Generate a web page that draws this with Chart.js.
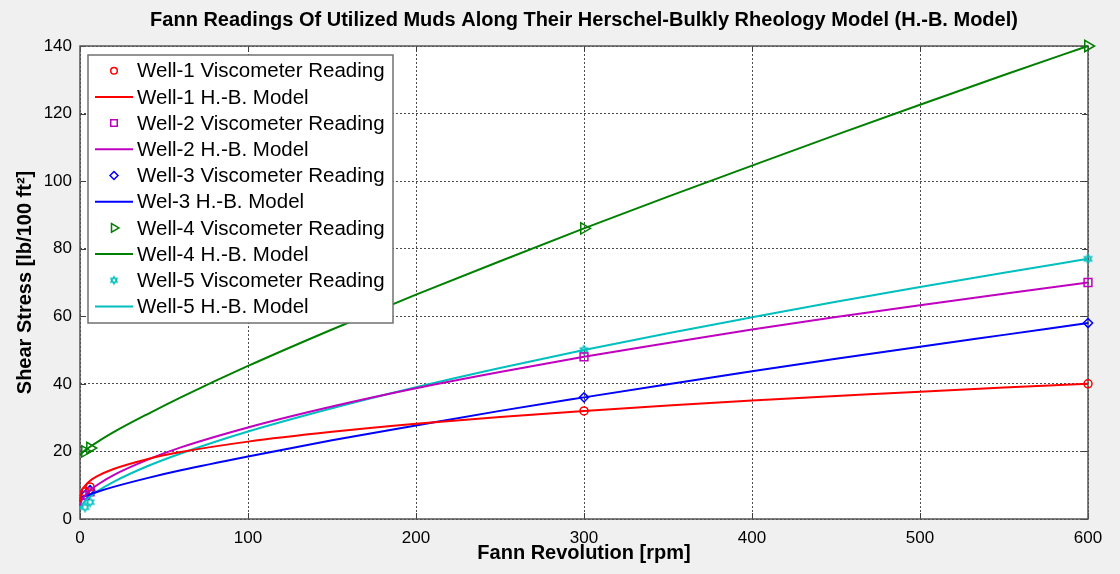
<!DOCTYPE html>
<html><head><meta charset="utf-8">
<script src="https://cdn.jsdelivr.net/npm/chart.js@4/dist/chart.umd.min.js"></script>
<style>html,body{margin:0;padding:0;background:#f0f0f0;overflow:hidden}</style>
</head><body>
<canvas id="c" width="1120" height="574" style="width:1120px;height:574px;display:block"></canvas>
<script>
// ---------- data ----------
const readingRpm = [3, 6, 300, 600];
const well1Reading = [8, 9.5, 32, 40];
const well2Reading = [7, 8, 48, 70];
const well3Reading = [7, 8.5, 36, 58];
const well4Reading = [20, 21, 86, 140];
const well5Reading = [3.5, 5, 50, 77];

const modelRpm = [0, 1, 3, 6, 10, 20, 40, 60, 100, 150, 200, 250, 300, 350, 400, 450, 500, 550, 600];
const well1Model = [5, 8.2, 9.8, 11.3, 12.6, 14.8, 17.7, 19.8, 22.9, 25.8, 28.2, 30.2, 32, 33.6, 35.1, 36.4, 37.7, 38.9, 40];
const well2Model = [4, 5.6, 7.0, 8.5, 10.0, 13.0, 17.5, 21.2, 27.1, 33.3, 38.7, 43.5, 48, 52.1, 56.1, 59.8, 63.3, 66.7, 70];
const well3Model = [6, 6.3, 6.8, 7.3, 8.0, 9.5, 12.1, 14.4, 18.5, 23.3, 27.7, 32, 36, 39.9, 43.7, 47.4, 51, 54.5, 58];
const well4Model = [19, 19.5, 20.3, 21.4, 22.7, 25.7, 31, 36, 45.3, 56.1, 66.4, 76.3, 86, 95.4, 104.6, 113.7, 122.6, 131.4, 140];
const well5Model = [3, 4.1, 5.3, 6.6, 8.1, 11.0, 15.6, 19.4, 25.9, 32.8, 39, 44.7, 50, 55, 59.7, 64.3, 68.7, 72.9, 77];

const xTicks = [0, 100, 200, 300, 400, 500, 600];
const yTicks = [0, 20, 40, 60, 80, 100, 120, 140];

const seriesLabels = [
  'Well-1 Viscometer Reading', 'Well-1 H.-B. Model',
  'Well-2 Viscometer Reading', 'Well-2 H.-B. Model',
  'Well-3 Viscometer Reading', 'Wel-3 H.-B. Model',
  'Well-4 Viscometer Reading', 'Well-4 H.-B. Model',
  'Well-5 Viscometer Reading', 'Well-5 H.-B. Model'
];
const titleText = 'Fann Readings Of Utilized Muds Along Their Herschel-Bulkly Rheology Model (H.-B. Model)';
const xTitle = 'Fann Revolution [rpm]';
const yTitle = 'Shear Stress [lb/100 ft\u00B2]';

// ---------- styles ----------
const FONT = '"Liberation Sans", Arial, sans-serif';
const colors = ['#ff0000', '#bf00bf', '#0000ff', '#008000', '#00bfbf'];

function hexagram(color, r) {
  const s = Math.ceil(r * 2 + 4);
  const cv = document.createElement('canvas');
  cv.width = s; cv.height = s;
  const g = cv.getContext('2d');
  g.strokeStyle = color; g.lineWidth = 1.2;
  const c = s / 2;
  for (let k = 0; k < 2; k++) {
    g.beginPath();
    for (let j = 0; j < 3; j++) {
      const a = (k * 60 + j * 120 - 90) * Math.PI / 180;
      const px = c + r * Math.cos(a), py = c + r * Math.sin(a);
      if (j === 0) g.moveTo(px, py); else g.lineTo(px, py);
    }
    g.closePath(); g.stroke();
  }
  return cv;
}

const markerStyles = [
  {pointStyle: 'circle', radius: 4, rotation: 0},
  {pointStyle: 'rect', radius: 5.5, rotation: 0},
  {pointStyle: 'rectRot', radius: 4.6, rotation: 0},
  {pointStyle: 'triangle', radius: 6.5, rotation: 90},
  {pointStyle: hexagram(colors[4], 4.5), radius: 4.5, rotation: 0}
];
const legendMarkers = [
  {pointStyle: 'circle', radius: 3.3, rotation: 0},
  {pointStyle: 'rect', radius: 4.6, rotation: 0},
  {pointStyle: 'rectRot', radius: 4, rotation: 0},
  {pointStyle: 'triangle', radius: 5, rotation: 90},
  {pointStyle: hexagram(colors[4], 3.8), radius: 3.8, rotation: 0}
];

const readings = [well1Reading, well2Reading, well3Reading, well4Reading, well5Reading];
const models = [well1Model, well2Model, well3Model, well4Model, well5Model];

const datasets = [];
for (let i = 0; i < 5; i++) {
  datasets.push({
    label: seriesLabels[2 * i],
    data: readingRpm.map((x, k) => ({x, y: readings[i][k]})),
    showLine: false,
    borderColor: colors[i],
    backgroundColor: 'rgba(0,0,0,0)',
    pointStyle: markerStyles[i].pointStyle,
    pointRadius: markerStyles[i].radius,
    pointRotation: markerStyles[i].rotation,
    pointBorderWidth: 1.5,
    pointHoverRadius: markerStyles[i].radius,
    clip: false,
    order: 2
  });
  datasets.push({
    label: seriesLabels[2 * i + 1],
    data: modelRpm.map((x, k) => ({x, y: models[i][k]})),
    showLine: true,
    borderColor: colors[i],
    backgroundColor: colors[i],
    borderWidth: 2,
    pointRadius: 0,
    pointHoverRadius: 0,
    cubicInterpolationMode: 'monotone',
    fill: false,
    clip: false,
    order: 1
  });
}

const framePlugin = {
  id: 'frame',
  beforeDraw(chart) {
    const {ctx, chartArea: a} = chart;
    ctx.save();
    ctx.fillStyle = '#f0f0f0';
    ctx.fillRect(0, 0, chart.width, chart.height);
    ctx.fillStyle = '#ffffff';
    ctx.fillRect(a.left, a.top, a.right - a.left, a.bottom - a.top);
    ctx.restore();
  },
  beforeDatasetsDraw(chart) {
    const {ctx, chartArea: a, scales} = chart;
    ctx.save();
    ctx.strokeStyle = '#3c3c3c';
    ctx.lineWidth = 1;
    const tl = 6;
    ctx.beginPath();
    xTicks.forEach(v => {
      const px = Math.round(scales.x.getPixelForValue(v)) + 0.5;
      ctx.moveTo(px, a.bottom); ctx.lineTo(px, a.bottom - tl);
      ctx.moveTo(px, a.top); ctx.lineTo(px, a.top + tl);
    });
    yTicks.forEach(v => {
      const py = Math.round(scales.y.getPixelForValue(v)) + 0.5;
      ctx.moveTo(a.left, py); ctx.lineTo(a.left + tl, py);
      ctx.moveTo(a.right, py); ctx.lineTo(a.right - tl, py);
    });
    ctx.stroke();
    ctx.lineWidth = 1.5;
    ctx.strokeStyle = '#555555';
    ctx.strokeRect(a.left, a.top, a.right - a.left, a.bottom - a.top);
    ctx.restore();
  },
  afterDraw(chart) {
    const ctx = chart.ctx;
    const a = chart.chartArea;
    ctx.save();
    // title centred over the axes box
    ctx.fillStyle = '#000000';
    ctx.font = 'bold 20px ' + FONT;
    ctx.textAlign = 'center';
    ctx.textBaseline = 'middle';
    ctx.fillText(titleText, (a.left + a.right) / 2, 20);
    // legend box
    const bx = 88, by = 55, bw = 305, bh = 268;
    ctx.fillStyle = '#ffffff';
    ctx.fillRect(bx, by, bw, bh);
    ctx.strokeStyle = '#707070';
    ctx.lineWidth = 1.5;
    ctx.strokeRect(bx, by, bw, bh);
    ctx.font = '20.5px ' + FONT;
    ctx.textBaseline = 'middle';
    ctx.textAlign = 'left';
    for (let j = 0; j < seriesLabels.length; j++) {
      const cy = 70.7 + j * 26.2;
      const i = Math.floor(j / 2);
      if (j % 2 === 0) {
        const m = legendMarkers[i];
        ctx.strokeStyle = colors[i];
        ctx.fillStyle = 'rgba(0,0,0,0)';
        ctx.lineWidth = 1.5;
        Chart.helpers.drawPoint(ctx, {pointStyle: m.pointStyle, radius: m.radius, rotation: m.rotation, borderWidth: 1.5}, 114, cy);
      } else {
        ctx.strokeStyle = colors[i];
        ctx.lineWidth = 2;
        ctx.beginPath();
        ctx.moveTo(95, cy); ctx.lineTo(133, cy);
        ctx.stroke();
      }
      ctx.fillStyle = '#000000';
      ctx.fillText(seriesLabels[j], 137, cy + 1);
    }
    ctx.restore();
  }
};

new Chart(document.getElementById('c'), {
  type: 'scatter',
  data: {datasets},
  options: {
    responsive: false,
    animation: false,
    devicePixelRatio: 1,
    layout: {padding: {left: 8, right: 32, top: 46, bottom: 0}},
    plugins: {
      legend: {display: false},
      tooltip: {enabled: false},
      title: {display: false}
    },
    scales: {
      x: {
        type: 'linear', min: 0, max: 600,
        afterBuildTicks: s => { s.ticks = xTicks.map(v => ({value: v})); },
        afterFit: s => { s.height = 55; },
        ticks: {color: '#000', font: {family: FONT, size: 17}, padding: 9, maxRotation: 0},
        grid: {color: '#4a4a4a', lineWidth: 1, drawTicks: false},
        border: {display: false, dash: [2, 2]},
        title: {display: true, text: xTitle, color: '#000', font: {family: FONT, size: 20, weight: 'bold'}, padding: {top: 0, bottom: 9}}
      },
      y: {
        type: 'linear', min: 0, max: 140,
        afterBuildTicks: s => { s.ticks = yTicks.map(v => ({value: v})); },
        afterFit: s => { s.width = 72; },
        ticks: {color: '#000', font: {family: FONT, size: 17}, padding: 8},
        grid: {color: '#4a4a4a', lineWidth: 1, drawTicks: false},
        border: {display: false, dash: [2, 2]},
        title: {display: true, text: yTitle, color: '#000', font: {family: FONT, size: 20, weight: 'bold'}, padding: {top: 5, bottom: 0}}
      }
    }
  },
  plugins: [framePlugin]
});
</script>
</body></html>
